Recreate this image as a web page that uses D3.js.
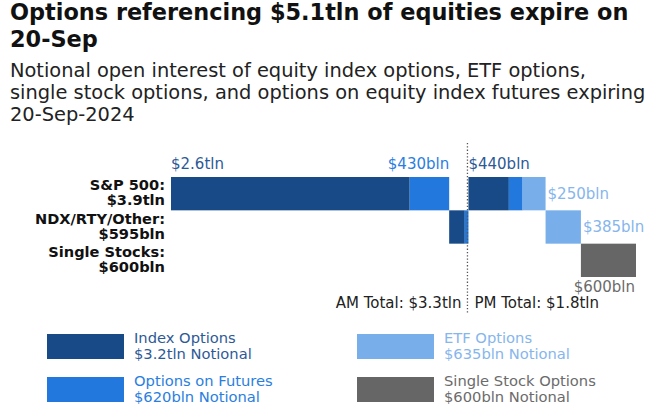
<!DOCTYPE html>
<html lang="en">
<head>
<meta charset="UTF-8">
<title>Options expiring 20-Sep</title>
<script src="https://cdn.jsdelivr.net/npm/d3@7/dist/d3.min.js"></script>
<style>
  body { margin: 0; background: #fff; }
  svg { font-family: "DejaVu Sans", sans-serif; display: block; }
</style>
</head>
<body>
<svg id="chart" width="661" height="420"></svg>
<script>
// chart values
var titleLines = ["Options referencing $5.1tln of equities expire on", "20-Sep"];
var subtitleLines = [
  "Notional open interest of equity index options, ETF options,",
  "single stock options, and options on equity index futures expiring",
  "20-Sep-2024"
];

var types = ["Index Options", "Options on Futures", "ETF Options", "Single Stock Options"];
var typeTotals = ["$3.2tln Notional", "$620bln Notional", "$635bln Notional", "$600bln Notional"];

var rows = ["S&P 500:", "NDX/RTY/Other:", "Single Stocks:"];
var rowTotals = ["$3.9tln", "$595bln", "$600bln"];

// waterfall segments, in order (bln)
var segRow     = [0, 0, 1, 1, 0, 0, 0, 1, 2];
var segType    = [0, 1, 0, 1, 0, 1, 2, 2, 3];
var segSession = ["AM", "AM", "AM", "AM", "PM", "PM", "PM", "PM", "PM"];
var segValue   = [2600, 430, 170, 40, 440, 150, 250, 385, 600];
var segLabel   = ["$2.6tln", "$430bln", "", "", "$440bln", "", "$250bln", "$385bln", "$600bln"];

var sessions = ["AM", "PM"];
var sessionTotals = ["AM Total: $3.3tln", "PM Total: $1.8tln"];

// styles
var fills = ["#174a86", "#2278dc", "#78afea", "#666666"];
var textFills = ["#2d5a96", "#2a7ee0", "#86b6ec", "#6b6b6b"];
var labelPlace = ["aboveStart", "aboveEnd", "", "", "aboveStart", "", "right", "right", "belowEnd"];

var svg = d3.select("#chart");
svg.append("rect").attr("width", 661).attr("height", 420).attr("fill", "#fff");

// titles
svg.append("g").selectAll("text")
  .data(titleLines).enter().append("text")
  .attr("x", 10).attr("y", function(d, i) { return 20 + i * 27; })
  .attr("font-size", 22.4).attr("font-weight", "bold").attr("fill", "#111")
  .text(function(d) { return d; });

svg.append("g").selectAll("text")
  .data(subtitleLines).enter().append("text")
  .attr("x", 10).attr("y", function(d, i) { return 77 + i * 22; })
  .attr("font-size", 19.4).attr("fill", "#222")
  .text(function(d) { return d; });

// build segments with running start
var segs = [];
var run = 0;
segValue.forEach(function(v, i) {
  segs.push({i: i, row: segRow[i], type: segType[i], session: segSession[i],
             x0: run, x1: run + v, label: segLabel[i]});
  run += v;
});

var x = d3.scaleLinear().domain([0, d3.sum(segValue)]).range([171, 636]);
var y = d3.scaleBand().domain(d3.range(rows.length)).range([177, 277]).padding(0);

// boundary between AM and PM
var amEnd = d3.sum(segs.filter(function(d) { return d.session === "AM"; }), function(d) { return d.x1 - d.x0; });

svg.append("g").selectAll("rect")
  .data(segs).enter().append("rect")
  .attr("x", function(d) { return x(d.x0); })
  .attr("y", function(d) { return y(d.row); })
  .attr("width", function(d) { return x(d.x1) - x(d.x0); })
  .attr("height", y.bandwidth())
  .attr("fill", function(d) { return fills[d.type]; });

svg.append("line")
  .attr("x1", x(amEnd) - 1).attr("x2", x(amEnd) - 1)
  .attr("y1", 143).attr("y2", 314)
  .attr("stroke", "#555").attr("stroke-width", 1.3)
  .attr("stroke-dasharray", "1.3,2");

// value labels
var lab = svg.append("g").attr("font-size", 15);
segs.filter(function(d) { return d.label; }).forEach(function(d) {
  var p = labelPlace[d.i];
  var t = lab.append("text").attr("fill", textFills[d.type]).text(d.label);
  if (p === "aboveStart") {
    t.attr("x", x(d.x0)).attr("y", y(d.row) - 8);
  } else if (p === "aboveEnd") {
    t.attr("x", x(d.x1)).attr("y", y(d.row) - 8).attr("text-anchor", "end");
  } else if (p === "right") {
    t.attr("x", x(d.x1) + 2).attr("y", y(d.row) + y.bandwidth() / 2 + 5);
  } else if (p === "belowEnd") {
    t.attr("x", x(d.x1) - 1).attr("y", y(d.row) + y.bandwidth() + 15).attr("text-anchor", "end");
  }
});

// row labels
var rl = svg.append("g").attr("font-size", 14.6).attr("font-weight", "bold")
  .attr("fill", "#111").attr("text-anchor", "end");
rows.forEach(function(r, i) {
  var cy = y(i) + y.bandwidth() / 2;
  rl.append("text").attr("x", 165).attr("y", cy - 3.5).text(r);
  rl.append("text").attr("x", 165).attr("y", cy + 11.5).text(rowTotals[i]);
});

// session totals
sessions.forEach(function(s, i) {
  svg.append("text")
    .attr("x", i === 0 ? x(amEnd) - 7 : x(amEnd) + 6)
    .attr("y", 308)
    .attr("font-size", 15).attr("fill", "#222")
    .attr("text-anchor", i === 0 ? "end" : "start")
    .text(sessionTotals[i]);
});

// legend
var leg = svg.append("g").selectAll("g")
  .data(types).enter().append("g")
  .attr("transform", function(d, i) {
    var col = i === 0 || i === 1 ? 0 : 1;
    var row = i === 0 || i === 2 ? 0 : 1;
    return "translate(" + (47 + col * 310) + "," + (334 + row * 43) + ")";
  });
leg.append("rect")
  .attr("width", 77).attr("height", 25)
  .attr("fill", function(d, i) { return fills[i]; });
leg.append("text")
  .attr("x", 87).attr("y", 9).attr("font-size", 14.7)
  .attr("fill", function(d, i) { return textFills[i]; })
  .text(function(d) { return d; });
leg.append("text")
  .attr("x", 87).attr("y", 24.5).attr("font-size", 14.7)
  .attr("fill", function(d, i) { return textFills[i]; })
  .text(function(d, i) { return typeTotals[i]; });
</script>
</body>
</html>
